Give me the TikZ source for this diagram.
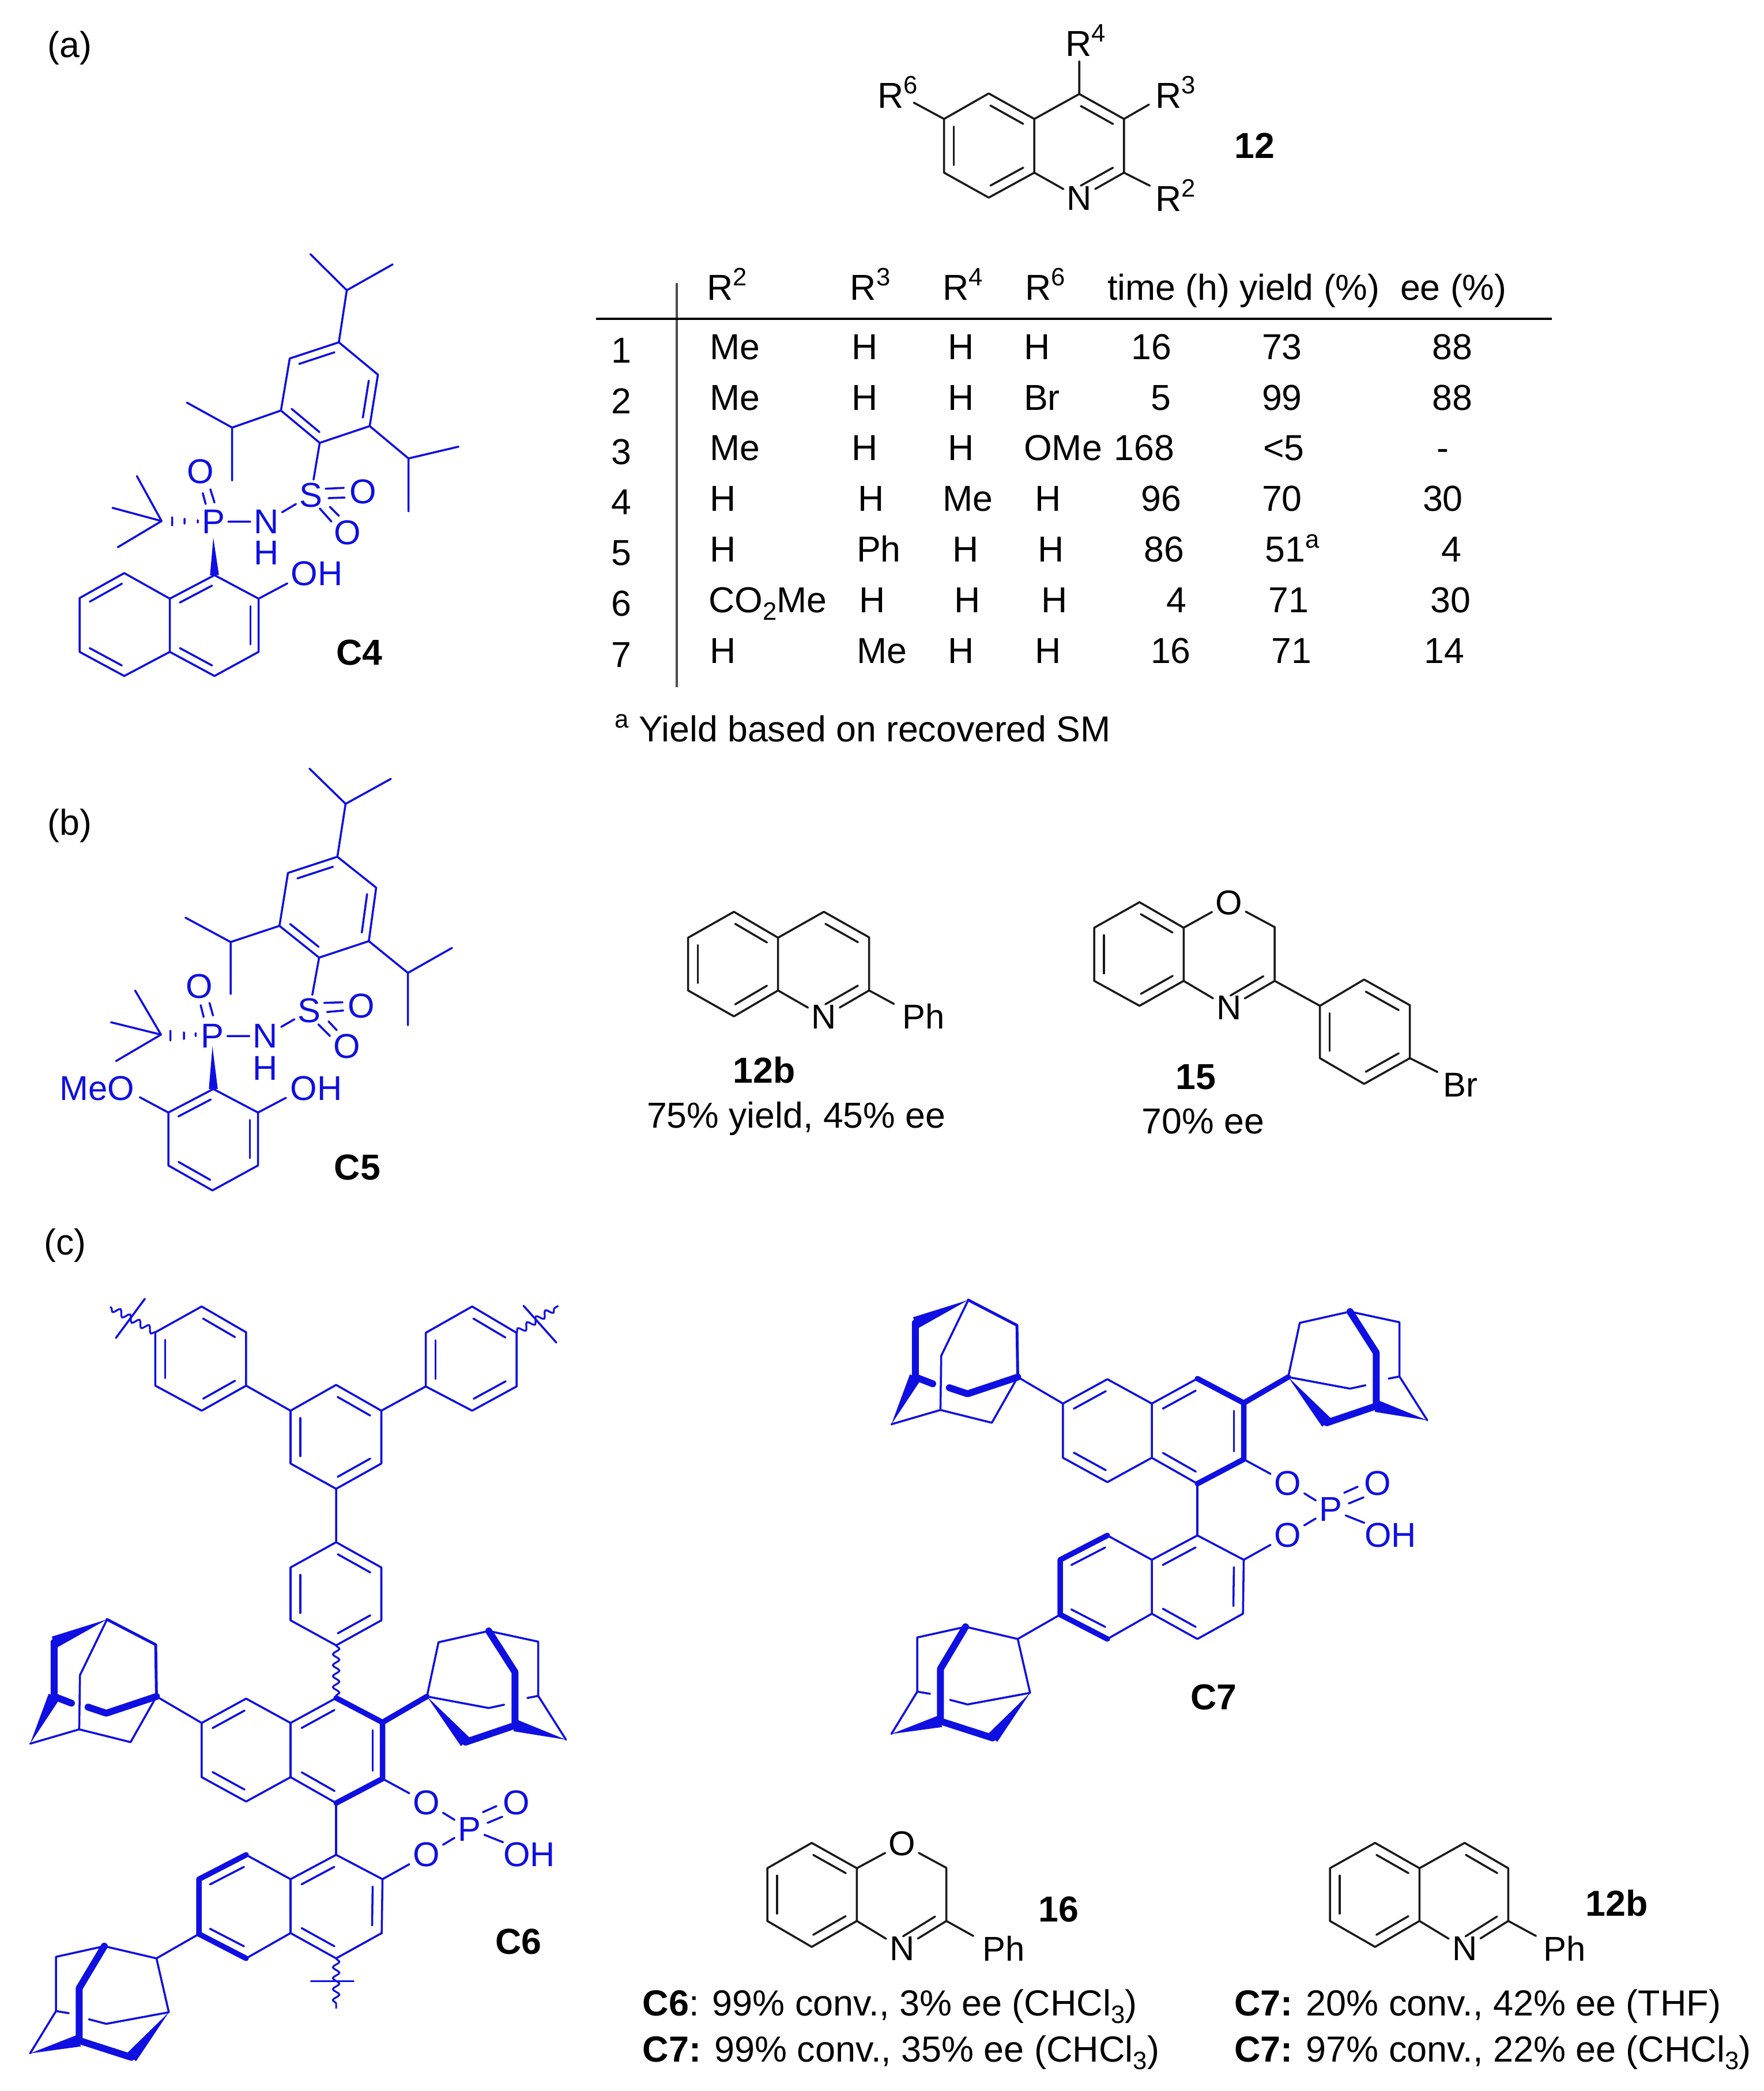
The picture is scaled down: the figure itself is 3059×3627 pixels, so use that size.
\documentclass[tikz,border=0pt]{standalone}
\usepackage{fontspec}
\setmainfont{Liberation Sans}
\usetikzlibrary{calc,decorations.pathmorphing}
\definecolor{chemblue}{RGB}{15,15,225}
\newcommand\upsc[1]{\raisebox{7pt}{\fontsize{12.4}{12.4}\selectfont #1}}
\newcommand\dnsc[1]{\raisebox{-3.6pt}{\fontsize{12.4}{12.4}\selectfont #1}}
\newcommand\vtx[1]{\foreach \n/\x/\y in {#1}{\coordinate (\n) at (\x,\y);}}
\def\dgap{4.8pt}
\newcommand\dbl[2]{\draw[bond] ($(#1)!.14!(#2)!\dgap!-90:(#2)$) -- ($(#2)!.14!(#1)!\dgap!90:(#1)$);}
\newcommand\dblk[2]{\draw[bondk] ($(#1)!.14!(#2)!\dgap!-90:(#2)$) -- ($(#2)!.14!(#1)!\dgap!90:(#1)$);}
\newcommand\wdg[3][3pt]{\fill[chemblue] (#2) -- ($(#3)!#1!90:(#2)$) -- ($(#3)!#1!-90:(#2)$) -- cycle;}
\newcounter{tn}
\newcommand\tbc[3]{\stepcounter{tn}\node[lbl] (t\arabic{tn}) at (#1,#2) {#3};}
\tikzset{
  bond/.style={draw=chemblue,line width=1pt,line cap=round,line join=round},
  med/.style={draw=chemblue,line width=1.4pt,line cap=round,line join=round},
  thk/.style={draw=chemblue,line width=2.7pt,line cap=round,line join=round},
  thka/.style={draw=chemblue,line width=3.4pt,line cap=round,line join=round},
  bondk/.style={draw=black!90,line width=1pt,line cap=round,line join=round},
  wavy/.style={draw=chemblue,line width=0.9pt,decorate,decoration={snake,segment length=5.4pt,amplitude=1.6pt}},
  atom/.style={text=chemblue,inner sep=1.5pt,font=\fontsize{17}{20}\selectfont},
  atomk/.style={text=black,inner sep=1.5pt,font=\fontsize{17}{20}\selectfont},
  lbl/.style={anchor=base west,inner sep=0pt,text=black,font=\fontsize{17.8}{20}\selectfont},
  lblc/.style={anchor=base,inner sep=0pt,text=black,font=\fontsize{17.8}{20}\selectfont},
  bold/.style={anchor=base,inner sep=0pt,text=black,font=\fontsize{17.8}{20}\selectfont\bfseries},
  boldc/.style={anchor=center,inner sep=0pt,text=black,font=\fontsize{17.8}{20}\selectfont\bfseries},
}
\newcommand\binap[3]{%
\begin{scope}[shift={(#2,#3)},x=0.006698cm,y=-0.005274cm,name prefix=#1-]
\vtx{n1/870/275,n2/990/355,n3/990/540,n4/870/620,n4a/752/535,n8a/752/357,n5/637/615,n6/522/535,n7/522/357,n8/637/277,
 l1/870/790,l2/990/870,l3/988/1047,l4/870/1130,l4a/752/1047,l8a/752/870,l8/637/790,l7/515/870,l6/515/1050,l5/637/1130,
 la/405/270,lb/277/17,lc/403/100,ld/140/92,le/140/270,lf/78/425,lg/205/378,lh/338/420,li/207/200,lj/185/292,lk/228/305,lm/275/325,
 ra/1105/270,rb/1135/92,rc/1265/55,rd/1393/90,re/1393/268,rf/1465/412,rg/1333/365,rh/1333/190,ri/1205/420,rj/1265/308,rk/1305/297,rm/1365/275,
 qa/405/1130,qb/270/1090,qc/145/1125,qd/145/1303,qe/78/1442,qf/205/1400,qg/205/1228,qh/340/1455,qi/437/1307,qj/275/1345,qk/230/1330,qm/178/1310,
 pa/1250/650,pb/1285/630,pc/1262/685,pd/1300/665}
\node[atom] (oa) at (1103,618) {O};
\node[atom] (ob) at (1103,790) {O};
\node[atom] (pp) at (1215,705) {P};
\node[atom] (oc) at (1337,618) {O};
\node[atom,inner sep=0pt] (oh) at (1370,790) {OH};
% naphthalene rings
\draw[thk] (n1)--(n2)--(n3)--(n4);
\draw[bond] (n4)--(n4a)--(n8a)--(n1);
\draw[bond] (n8a)--(n8)--(n7)--(n6)--(n5)--(n4a);
\dbl{n2}{n3}\dbl{n4}{n4a}\dbl{n8a}{n1}\dbl{n7}{n8}\dbl{n5}{n6}
\draw[bond] (n4)--(l1);
\draw[bond] (l1)--(l2)--(l3)--(l4)--(l4a)--(l8a)--cycle;
\draw[thk] (l8)--(l7)--(l6)--(l5);
\draw[bond] (l8)--(l8a) (l5)--(l4a);
\dbl{l8a}{l1}\dbl{l2}{l3}\dbl{l4}{l4a}\dbl{l7}{l8}\dbl{l5}{l6}
% phosphate
\draw[bond] (n3)--(oa) (l2)--(ob) (oa)--(pp) (ob)--(pp) (pp)--(oh.north west);
\draw[bond] (pa)--(pb) (pc)--(pd);
% upper left adamantyl
\draw[bond] (n7)--(la) (lb)--(li)--(lg) (lf)--(lg)--(lh)--(la);
\draw[med] (lb)--(lc)--(la);
\draw[thka] (ld)--(le)--(lj) (lk)--(lm)--(la);
\wdg{lb}{ld}\wdg{lf}{le}
% upper right adamantyl
\draw[bond] (ra)--(rb)--(rc)--(rd)--(re)--(rf) (ra)--(rj)--(rk) (rm)--(re);
\draw[thk] (n2)--(ra);
\draw[thka] (rc)--(rh)--(rg)--(ri);
\wdg{rf}{rg}\wdg{ra}{ri}
% lower adamantyl
\draw[bond] (l6)--(qa)--(qb)--(qc)--(qd)--(qe) (qi)--(qa) (qi)--(qj)--(qk) (qd)--(qm);
\draw[thka] (qb)--(qg)--(qf)--(qh);
\wdg{qe}{qf}\wdg{qi}{qh}
\end{scope}}
\begin{document}
\begin{tikzpicture}[x=0.01cm,y=-0.01cm]
\useasboundingbox[fill=white] (0,0) rectangle (3059,3627);
\node[lbl] (pa) at (82,100) {(a)};
\node[lbl] (pb) at (82,1448) {(b)};
\node[lbl] (pc) at (76,2176) {(c)};

% ---- structure 12
\begin{scope}[shift={(1450,0)},x=0.005102cm,y=-0.003333cm,name prefix=q-]
\vtx{a/520/487,b/675/620,c/675/900,d/520/1030,e/368/900,f/368/620,g/828/490,h/980/620,i/980/900,j/828/1030,
 k/828/320,m/1065/545,o/1068/968,p/265/535}
\node[lbl] (r4) at (780,292) {R\upsc{4}};
\node[lbl] (r3) at (1085,562) {R\upsc{3}};
\node[lbl] (r2) at (1085,1100) {R\upsc{2}};
\node[lbl] (r6) at (140,562) {R\upsc{6}};
\node[atomk] (nn) at (828,1032) {N};
\node[bold,anchor=base west] (l12) at (1355,825) {12};
\draw[bondk] (a)--(b)--(c)--(d)--(e)--(f)--cycle;
\draw[bondk] (b)--(g)--(h)--(i)--(nn)--(c);
\dblk{a}{b}\dblk{c}{d}\dblk{e}{f}\dblk{g}{h}\dblk{i}{j}
\draw[bondk] (g)--(k) (h)--(m) (i)--(o) (f)--(p);
\end{scope}

% ---- table
\begin{scope}[shift={(996.5,402)},x=0.011161cm,y=-0.006061cm]
\coordinate (va) at (159,147); \coordinate (vb) at (159,1304);
\coordinate (ha) at (34,249); \coordinate (hb) at (1519,249);
\draw[black!70,line width=0.9pt] (va)--(vb);
\draw[black,line width=1pt] (ha)--(hb);
\tbc{205}{195}{R\upsc{2}}\tbc{428}{195}{R\upsc{3}}\tbc{572}{195}{R\upsc{4}}\tbc{700}{195}{R\upsc{6}}
\tbc{828}{195}{time (h)}\tbc{1033}{195}{yield (\%)}\tbc{1283}{195}{ee (\%)}
\tbc{57}{375}{1}\tbc{57}{520}{2}\tbc{57}{665}{3}\tbc{57}{810}{4}\tbc{57}{955}{5}\tbc{57}{1100}{6}\tbc{57}{1247}{7}
\tbc{210}{365}{Me}\tbc{430}{365}{H}\tbc{580}{365}{H}\tbc{698}{365}{H}\tbc{865}{365}{16}\tbc{1068}{365}{73}\tbc{1333}{365}{88}
\tbc{210}{510}{Me}\tbc{430}{510}{H}\tbc{580}{510}{H}\tbc{698}{510}{Br}\tbc{895}{510}{5}\tbc{1068}{510}{99}\tbc{1333}{510}{88}
\tbc{210}{655}{Me}\tbc{430}{655}{H}\tbc{580}{655}{H}\tbc{698}{655}{OMe}\tbc{838}{655}{168}\tbc{1070}{655}{<5}\tbc{1340}{655}{-}
\tbc{210}{800}{H}\tbc{440}{800}{H}\tbc{572}{800}{Me}\tbc{715}{800}{H}\tbc{880}{800}{96}\tbc{1068}{800}{70}\tbc{1318}{800}{30}
\tbc{210}{945}{H}\tbc{438}{945}{Ph}\tbc{587}{945}{H}\tbc{720}{945}{H}\tbc{885}{945}{86}\tbc{1073}{945}{51\upsc{a}}\tbc{1347}{945}{4}
\tbc{208}{1090}{CO\dnsc{2}Me}\tbc{442}{1090}{H}\tbc{590}{1090}{H}\tbc{725}{1090}{H}\tbc{920}{1090}{4}\tbc{1078}{1090}{71}\tbc{1330}{1090}{30}
\tbc{210}{1235}{H}\tbc{438}{1235}{Me}\tbc{580}{1235}{H}\tbc{715}{1235}{H}\tbc{895}{1235}{16}\tbc{1083}{1235}{71}\tbc{1320}{1235}{14}
\tbc{62}{1460}{\upsc{a}\hspace{0.28em}Yield based on recovered SM}
\end{scope}

% ---- C4
\begin{scope}[shift={(60,400)},x=0.005102cm,y=-0.005102cm,name prefix=c4-]
\def\dgap{4pt}
\vtx{a1/1035/380,a2/1168/490,a3/1140/665,a4/970/722,a5/838/612,a6/868/435,
 ta/1062/203,tb/938/80,tc/1218/115,ua/672/670,ub/518/585,uc/672/850,va/1272/775,vb/1442/735,vc/1272/955,
 sa/990/878,sb/1052/875,sc/1000/910,sd/1055/908,se/970/945,sf/1010/990,sg/1005/940,sh/1035/970,
 pa/572/893,pb/582/930,pc/598/880,pd/612/925,
 cc/432/988,b1/348/835,b2/265/943,b3/283/1077,
 wt/608/1045,c1/612/1172,c2/762/1252,c3/762/1433,c4/612/1515,c4a/460/1433,c8a/460/1252,c8/305/1165,c7/153/1250,c6/153/1433,c5/305/1515,
 oe/860/1200,h1/468/975,h2/468/1003,h3/510/980,h4/510/997,h5/555/985,h6/555/993}
\node[atom] (ss) at (940,900) {S};
\node[atom] (o1) at (1118,888) {O};
\node[atom] (o2) at (1065,1028) {O};
\node[atom] (nn) at (788,990) {N};
\node[atom,inner sep=0pt] (hh) at (788,1096) {H};
\node[atom] (pp) at (608,990) {P};
\node[atom] (o3) at (565,820) {O};
\node[atom] (oh) at (960,1167) {OH};
\node[boldc] (lc) at (1105,1436) {C4};
\draw[bond] (a1)--(a2)--(a3)--(a4)--(a5)--(a6)--cycle;
\dbl{a6}{a1}\dbl{a2}{a3}\dbl{a4}{a5}
\draw[bond] (a1)--(ta)--(tb) (ta)--(tc) (a5)--(ua)--(ub) (ua)--(uc) (a3)--(va)--(vb) (va)--(vc);
\draw[bond] (a4)--(ss) (nn)--(ss) (pp)--(nn);
\draw[bond] (sa)--(sb) (sc)--(sd) (se)--(sf) (sg)--(sh) (pa)--(pb) (pc)--(pd);
\draw[bond] (cc)--(b1) (cc)--(b2) (cc)--(b3) (h1)--(h2) (h3)--(h4) (h5)--(h6);
\wdg[2.2pt]{wt}{c1}
\draw[bond] (c1)--(c2)--(c3)--(c4)--(c4a)--(c8a)--cycle;
\draw[bond] (c8a)--(c8)--(c7)--(c6)--(c5)--(c4a);
\dbl{c8a}{c1}\dbl{c2}{c3}\dbl{c4}{c4a}\dbl{c7}{c8}\dbl{c5}{c6}
\draw[bond] (c2)--(oe);
\end{scope}

% ---- C5
\begin{scope}[shift={(60,1300)},x=0.005102cm,y=-0.005102cm,name prefix=c5-]
\def\dgap{4pt}
\vtx{a1/1030/365,a2/1162/470,a3/1137/652,a4/968/708,a5/833/600,a6/862/420,
 ta/1058/185,tb/935/65,tc/1212/100,ua/667/655,ub/513/572,uc/667/832,va/1270/760,vb/1420/675,vc/1270/938,
 sa/985/862,sb/1048/860,sc/995/893,sd/1050/888,se/965/935,sf/1005/975,sg/1000/925,sh/1028/955,
 pa/565/870,pb/575/910,pc/595/862,pd/607/905,
 cc/430/970,b1/342/820,b2/260/928,b3/277/1060,
 wt/605/1010,r1/608/1155,r2/760/1235,r3/760/1415,r4/605/1500,r5/455/1415,r6/455/1235,
 oe/855/1185,om/358/1183,h1/462/957,h2/462/990,h3/508/962,h4/508/985,h5/548/965,h6/548/975}
\node[atom] (ss) at (935,888) {S};
\node[atom] (o1) at (1112,872) {O};
\node[atom] (o2) at (1062,1010) {O};
\node[atom] (nn) at (785,975) {N};
\node[atom,inner sep=0pt] (hh) at (785,1084) {H};
\node[atom] (pp) at (605,975) {P};
\node[atom] (o3) at (560,805) {O};
\node[atom] (oh) at (958,1152) {OH};
\node[atom] (me) at (213,1152) {MeO};
\node[boldc] (lc) at (1098,1421) {C5};
\draw[bond] (a1)--(a2)--(a3)--(a4)--(a5)--(a6)--cycle;
\dbl{a6}{a1}\dbl{a2}{a3}\dbl{a4}{a5}
\draw[bond] (a1)--(ta)--(tb) (ta)--(tc) (a5)--(ua)--(ub) (ua)--(uc) (a3)--(va)--(vb) (va)--(vc);
\draw[bond] (a4)--(ss) (nn)--(ss) (pp)--(nn);
\draw[bond] (sa)--(sb) (sc)--(sd) (se)--(sf) (sg)--(sh) (pa)--(pb) (pc)--(pd);
\draw[bond] (cc)--(b1) (cc)--(b2) (cc)--(b3) (h1)--(h2) (h3)--(h4) (h5)--(h6);
\wdg[2.2pt]{wt}{r1}
\draw[bond] (r1)--(r2)--(r3)--(r4)--(r5)--(r6)--cycle;
\dbl{r6}{r1}\dbl{r2}{r3}\dbl{r4}{r5}
\draw[bond] (r2)--(oe) (r6)--(om);
\end{scope}

% ---- 12b and 15
\begin{scope}[shift={(1096,1520)},x=0.009569cm,y=-0.003333cm,name prefix=s-]
\vtx{a/185/185,b/265/320,c/265/595,d/185/730,e/102/595,f/102/320,g/348/185,h/430/318,i/430/595,j/348/730,k/475/665,
 A/920/135,B/1000/268,C/1000/545,D/920/675,E/838/545,F/838/268,G/1165/265,H/1165/545,J/1082/685,
 P/1327/538,Q/1410/672,R/1410/948,S/1327/1082,T/1247/948,U/1247/675,V/1460/1020}
\node[atomk] (n1) at (348,732) {N};
\node[lbl,font=\fontsize{17}{20}\selectfont] (ph) at (490,795) {Ph};
\node[bold] (l1) at (240,1076) {12b};
\node[lblc] (l2) at (298,1311) {75\% yield, 45\% ee};
\draw[bondk] (a)--(b)--(c)--(d)--(e)--(f)--cycle;
\draw[bondk] (b)--(g)--(h)--(i)--(n1)--(c) (i)--(k);
\dblk{a}{b}\dblk{c}{d}\dblk{e}{f}\dblk{g}{h}\dblk{i}{j}
\node[atomk] (o2) at (1082,137) {O};
\node[atomk] (n2) at (1082,685) {N};
\node[lbl,font=\fontsize{17}{20}\selectfont] (br) at (1470,1148) {Br};
\node[bold] (l3) at (1022,1111) {15};
\node[lblc] (l4) at (1035,1341) {70\% ee};
\draw[bondk] (A)--(B)--(C)--(D)--(E)--(F)--cycle;
\draw[bondk] (B)--(o2)--(G)--(H)--(n2)--(C) (H)--(U) (R)--(V);
\dblk{A}{B}\dblk{C}{D}\dblk{E}{F}\dblk{H}{J}
\draw[bondk] (P)--(Q)--(R)--(S)--(T)--(U)--cycle;
\dblk{P}{Q}\dblk{R}{S}\dblk{T}{U}
\end{scope}

% ---- C6 polymer part
\begin{scope}[shift={(0,2200)},x=0.006698cm,y=-0.004464cm,name prefix=u-]
\vtx{ca/870/452,cb/987/552,cc/987/757,cd/870/855,ce/752/757,cf/752/552,
 da/870/1062,db/987/1160,dc/987/1365,dd/870/1462,de/752/1365,df/752/1160,
 ea/522/148,eb/637/248,ec/637/455,ed/522/552,ee/402/455,ef/402/248,
 fa/1222/148,fb/1337/250,fc/1337/458,fd/1222/552,fe/1102/458,ff/1102/250,
 wl/285/150,xa/300/270,xb/375/118,wr/1445/145,ya/1355/145,yb/1440/288}
\draw[bond] (ca)--(cb)--(cc)--(cd)--(ce)--(cf)--cycle;
\draw[bond] (da)--(db)--(dc)--(dd)--(de)--(df)--cycle;
\draw[bond] (ea)--(eb)--(ec)--(ed)--(ee)--(ef)--cycle;
\draw[bond] (fa)--(fb)--(fc)--(fd)--(fe)--(ff)--cycle;
\dbl{ca}{cb}\dbl{cc}{cd}\dbl{ce}{cf}
\dbl{da}{db}\dbl{dc}{dd}\dbl{de}{df}
\dbl{ea}{eb}\dbl{ec}{ed}\dbl{ee}{ef}
\dbl{fa}{fb}\dbl{fc}{fd}\dbl{fe}{ff}
\draw[bond] (cd)--(da) (ec)--(cf) (fe)--(cb);
\draw[wavy] (ef)--(wl);
\draw[wavy] (fb)--(wr);
\draw[bond] (xa)--(xb) (ya)--(yb);
\end{scope}

\binap{c6}{0}{2800}
\binap{c7}{1494}{2246}
\begin{scope}[shift={(0,2800)},x=0.006698cm,y=-0.005274cm]
\vtx{wb/870/1295,xc/805/1205,xd/915/1205}
\draw[wavy] (u-dd)--(c6-n1);
\draw[wavy] (c6-l4)--(wb);
\draw[bond] (xc)--(xd);
\node[boldc] (lc6) at (1342,1075) {C6};
\end{scope}
\node[boldc] (lc7) at (2105,2944) {C7};

% ---- 16 and 12b, bottom
\begin{scope}[shift={(1076,3150)},x=0.012626cm,y=-0.003333cm,name prefix=z-]
\vtx{A/263/140,B/325/272,C/325/547,D/263/682,E/202/547,F/202/272,G/448/270,H/448/547,J/387/690,K/485/625,
 a/1037/140,b/1098/272,c/1098/547,d/1037/682,e/975/547,f/975/272,g/1160/140,h/1220/272,i/1220/547,j/1160/690,k/1258/625}
\node[atomk] (o1) at (387,145) {O};
\node[atomk] (n1) at (387,690) {N};
\node[lbl,font=\fontsize{17}{20}\selectfont] (p1) at (497,755) {Ph};
\node[bold] (l1) at (602,550) {16};
\draw[bondk] (A)--(B)--(C)--(D)--(E)--(F)--cycle;
\draw[bondk] (B)--(o1)--(G)--(H)--(n1)--(C) (H)--(K);
\dblk{A}{B}\dblk{C}{D}\dblk{E}{F}\dblk{H}{J}
\node[atomk] (n2) at (1160,690) {N};
\node[lbl,font=\fontsize{17}{20}\selectfont] (p2) at (1268,755) {Ph};
\node[bold] (l2) at (1369,520) {12b};
\draw[bondk] (a)--(b)--(c)--(d)--(e)--(f)--cycle;
\draw[bondk] (b)--(g)--(h)--(i)--(n2)--(c) (i)--(k);
\dblk{a}{b}\dblk{c}{d}\dblk{e}{f}\dblk{g}{h}\dblk{i}{j}
\node[lbl,font=\fontsize{17.9}{20}\selectfont] (e1) at (30,1041) {\textbf{C6}: 99\% conv., 3\% ee (CHCl\dnsc{3})};
\node[lbl,font=\fontsize{17.9}{20}\selectfont] (e2) at (30,1281) {\textbf{C7:} 99\% conv., 35\% ee (CHCl\dnsc{3})};
\node[lbl,font=\fontsize{17.9}{20}\selectfont] (e3) at (843,1041) {\textbf{C7:} 20\% conv., 42\% ee (THF)};
\node[lbl,font=\fontsize{17.9}{20}\selectfont] (e4) at (843,1281) {\textbf{C7:} 97\% conv., 22\% ee (CHCl\dnsc{3})};
\end{scope}
\end{tikzpicture}
\end{document}
